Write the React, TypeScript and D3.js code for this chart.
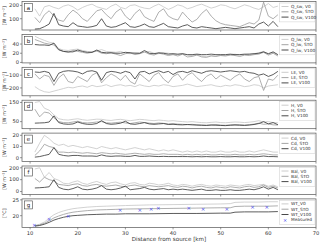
import React from "react";
import * as d3 from "d3";

// distance along river [km]
const km = [11, 12, 13, 14, 15, 16, 17, 18, 19, 20, 21, 22, 23, 24, 25, 26, 27, 28, 29, 30, 31, 32, 33, 34, 35, 36, 37, 38, 39, 40, 41, 42, 43, 44, 45, 46, 47, 48, 49, 50, 51, 52, 53, 54, 55, 56, 57, 58, 59, 60, 61, 62];

const qswV0 = [175, 120, 190, 200, 185, 175, 195, 205, 190, 165, 185, 200, 210, 190, 180, 170, 195, 210, 185, 175, 200, 205, 190, 180, 175, 195, 210, 190, 170, 185, 205, 195, 175, 185, 200, 210, 195, 180, 190, 205, 200, 185, 175, 190, 205, 195, 180, 170, 190, 215, 185, 195];
const qswSTO = [110, 70, 130, 160, 120, 90, 80, 130, 165, 140, 100, 80, 120, 160, 170, 130, 100, 150, 175, 120, 90, 140, 170, 115, 95, 80, 150, 175, 120, 100, 90, 150, 110, 75, 95, 140, 170, 120, 85, 65, 55, 50, 45, 40, 55, 70, 60, 90, 225, 120, 100, 130];
const qswV100 = [22, 25, 40, 60, 140, 55, 45, 40, 70, 45, 40, 35, 40, 50, 100, 45, 35, 40, 55, 70, 40, 35, 45, 60, 40, 35, 50, 65, 40, 35, 30, 45, 55, 35, 30, 40, 35, 30, 25, 30, 35, 30, 25, 30, 35, 40, 30, 60, 75, 45, 80, 40];

const qlwV0 = [57, 52, 48, 44, 42, 30, 27, 26, 28, 29, 26, 24, 23, 25, 28, 24, 23, 22, 24, 20, 19, 21, 20, 22, 24, 20, 19, 21, 20, 18, 17, 19, 16, 15, 17, 14, 13, 15, 14, 16, 15, 17, 18, 16, 17, 18, 19, 21, 24, 18, 22, 16];
const qlwSTO = [50, 46, 42, 40, 38, 27, 24, 22, 26, 24, 22, 20, 22, 25, 20, 19, 21, 18, 15, 19, 21, 17, 19, 23, 18, 16, 20, 18, 15, 17, 14, 18, 12, 13, 16, 12, 11, 14, 13, 15, 14, 16, 15, 13, 16, 15, 17, 18, 22, 16, 20, 14];
const qlwV100 = [39, 38, 38, 37, 42, 28, 24, 23, 23, 27, 24, 22, 22, 27, 22, 21, 21, 20, 20, 22, 21, 20, 20, 26, 20, 19, 21, 20, 18, 19, 18, 19, 17, 17, 18, 17, 17, 18, 17, 17, 17, 18, 17, 17, 18, 18, 19, 20, 23, 19, 23, 17];

const leV0 = [-190, -215, -230, -235, -225, -215, -205, -195, -200, -190, -185, -195, -180, -190, -185, -175, -190, -180, -175, -185, -180, -190, -175, -185, -190, -180, -185, -175, -180, -190, -185, -180, -170, -180, -190, -185, -180, -175, -185, -190, -180, -185, -175, -180, -190, -185, -175, -180, -200, -185, -180, -175];
const leSTO = [-90, -130, -100, -110, -180, -120, -90, -150, -160, -110, -130, -150, -100, -80, -160, -120, -90, -110, -140, -100, -150, -170, -90, -120, -150, -100, -80, -130, -160, -110, -90, -140, -100, -80, -120, -150, -110, -90, -130, -100, -120, -140, -110, -90, -130, -150, -120, -110, -220, -130, -140, -100];
const leV100 = [-75, -78, -70, -80, -150, -85, -70, -65, -68, -75, -90, -70, -65, -75, -140, -80, -70, -75, -85, -70, -80, -130, -75, -70, -90, -75, -65, -80, -70, -95, -75, -70, -80, -65, -75, -85, -70, -65, -70, -75, -70, -65, -70, -75, -70, -80, -85, -100, -90, -110, -95, -70];

const hV0 = [150, 155, 120, 110, 85, 65, 60, 58, 62, 65, 60, 57, 60, 63, 62, 58, 56, 60, 62, 58, 55, 58, 62, 60, 57, 55, 58, 56, 53, 55, 52, 50, 48, 50, 47, 45, 44, 46, 48, 45, 44, 46, 48, 47, 45, 47, 50, 55, 48, 50, 45, 44];
const hSTO = [115, 75, 100, 95, 70, 50, 45, 44, 48, 52, 45, 43, 45, 48, 50, 44, 42, 45, 47, 43, 40, 44, 48, 45, 42, 40, 43, 41, 38, 40, 37, 36, 34, 36, 33, 32, 31, 33, 35, 32, 31, 33, 35, 34, 32, 34, 37, 42, 36, 38, 33, 32];
const hV100 = [42, 43, 44, 48, 80, 45, 38, 36, 38, 48, 40, 36, 36, 40, 55, 40, 36, 38, 42, 52, 38, 36, 40, 45, 38, 36, 38, 40, 35, 36, 34, 33, 35, 33, 32, 31, 30, 32, 31, 30, 29, 31, 32, 31, 30, 32, 35, 40, 50, 38, 45, 34];

const cdV0 = [5, 13, 20, 17, 13, 11, 12, 10, 11, 10, 9, 10, 9, 8, 10, 9, 8, 9, 8, 7, 8, 9, 8, 7, 8, 7, 6, 7, 6, 7, 6, 5, 6, 5, 6, 5, 6, 5, 5, 6, 5, 5, 6, 5, 5, 6, 5, 6, 7, 6, 5, 5];
const cdSTO = [2, 6, 12, 10, 9, 5, 5, 4.5, 5, 4.5, 4, 4.5, 4, 3.5, 4.5, 4, 3.5, 4, 3.5, 3, 3.5, 4, 3.5, 3, 3.5, 3, 3, 3.5, 3, 3, 3, 2.5, 3, 2.5, 3, 2.5, 3, 2.5, 2.5, 3, 2.5, 2.5, 3, 2.5, 2.5, 3, 2.5, 3, 3.5, 3, 2.5, 2.5];
const cdV100 = [0.5, 1, 2, 3, 9, 3, 2, 1.5, 2, 2, 1.5, 1.5, 1.5, 1.2, 2.5, 1.5, 1.2, 1.5, 1.5, 1.2, 1.2, 2, 1.2, 1.2, 1.5, 1.2, 1, 1.2, 1, 1, 1, 1, 1, 0.8, 1, 0.8, 1, 0.8, 0.8, 1, 0.8, 0.8, 1, 0.8, 0.8, 1, 0.8, 1, 1.5, 1, 1, 0.8];

const balV0 = [190, 200, 120, 160, 110, 95, 70, 65, 80, 90, 70, 60, 75, 85, 70, 60, 75, 80, 65, 55, 70, 75, 60, 55, 70, 65, 55, 60, 70, 55, 50, 60, 55, 45, 55, 60, 50, 45, 55, 50, 45, 55, 50, 45, 55, 60, 50, 55, 60, 45, 55, 40];
const balSTO = [110, 80, 120, 100, 90, 60, 55, 50, 60, 65, 50, 45, 55, 60, 50, 45, 50, 55, 45, 40, 50, 55, 45, 40, 50, 45, 40, 45, 50, 40, 35, 45, 40, 30, 40, 45, 35, 30, 40, 35, 30, 40, 35, 30, 40, 45, 35, 40, 55, 35, 45, 30];
const balV100 = [30, 32, 35, 40, 100, 35, 20, 15, 25, 40, 20, 15, 20, 30, 50, 20, 15, 20, 30, 45, 15, 20, 25, 35, 20, 15, 20, 25, 15, 20, 15, 20, 15, 10, 15, 20, 10, 10, 15, 10, 10, 15, 10, 10, 15, 20, 15, 25, 40, 20, 35, 15];

// water temperature
const wtKm = [11, 12, 13, 14, 15, 16, 17, 18, 19, 20, 22, 24, 26, 28, 30, 35, 40, 45, 50, 52, 53, 55, 58, 60, 62];
const wtV0 = [16.9, 17.3, 18.0, 19.2, 20.3, 21.0, 21.5, 21.9, 22.2, 22.4, 22.7, 22.9, 23.0, 23.1, 23.2, 23.4, 23.5, 23.6, 23.7, 23.8, 24.2, 24.3, 24.3, 24.4, 24.4];
const wtSTO = [16.8, 17.1, 17.6, 18.4, 19.3, 19.9, 20.4, 20.8, 21.1, 21.3, 21.6, 21.8, 21.9, 22.0, 22.1, 22.2, 22.3, 22.4, 22.5, 22.5, 22.9, 23.0, 23.0, 23.0, 23.1];
const wtV100 = [16.7, 16.9, 17.3, 17.9, 18.6, 19.1, 19.5, 19.8, 20.0, 20.1, 20.3, 20.4, 20.5, 20.5, 20.6, 20.6, 20.7, 20.7, 20.8, 20.8, 21.1, 21.2, 21.2, 21.2, 21.3];
const measKm = [10.9, 14.0, 18.0, 28.9, 33.0, 35.4, 36.9, 43.3, 46.3, 51.3, 56.7, 59.7];
const measWT = [16.9, 18.8, 19.9, 21.8, 21.8, 22.2, 22.4, 22.3, 22.0, 22.0, 22.6, 22.7];

const xTicks = [10, 20, 30, 40, 50, 60, 70];
const runNames = ["V0", "STO", "V100"];
const runColors = ["#c6c6c6", "#9a9a9a", "#333333"];

const panels = [
  { id: "a", name: "Q_sw", sep: ", ", series: [qswV0, qswSTO, qswV100], dom: [15, 230], ticks: [100, 200], unit: "[W m⁻²]" },
  { id: "b", name: "Q_lw", sep: ", ", series: [qlwV0, qlwSTO, qlwV100], dom: [-1, 61], ticks: [0, 20, 40], unit: "[W m⁻²]" },
  { id: "c", name: "LE", sep: ", ", series: [leV0, leSTO, leV100], dom: [-262, -38], ticks: [-200, -100], unit: "[W m⁻²]" },
  { id: "d", name: "H", sep: ", ", series: [hV0, hSTO, hV100], dom: [13, 162], ticks: [50, 150], unit: "[W m⁻²]" },
  { id: "e", name: "Cd", sep: ", ", series: [cdV0, cdSTO, cdV100], dom: [-3.5, 22], ticks: [0, 10, 20], unit: "[W m⁻²]" },
  { id: "f", name: "Bal", sep: ", ", series: [balV0, balSTO, balV100], dom: [-25, 215], ticks: [0, 100, 200], unit: "[W m⁻²]" },
];

const FONT = "DejaVu Sans, sans-serif";
const L = 22;
const R = 316;
const TOP0 = 1.5;
const STEP = 32.9;
const PH = 28.5;

const x = d3.scaleLinear().domain([8.3, 70]).range([L, R]);
const fmt = (v: number) => (v < 0 ? "\u2212" + Math.abs(v) : String(v));

function Frame({ top, id, yTicks, y, unit, showXLabels }: any) {
  return (
    <g>
      <rect x={L} y={top} width={R - L} height={PH} fill="none" stroke="#555" strokeWidth={0.7} />
      {yTicks.map((t: number) => (
        <g key={t}>
          <line x1={L - 2} x2={L} y1={y(t)} y2={y(t)} stroke="#555" strokeWidth={0.6} />
          <text x={L - 3} y={y(t)} dy="0.35em" textAnchor="end" fontSize={5.2} fill="#333" fontFamily={FONT}>
            {fmt(t)}
          </text>
        </g>
      ))}
      {xTicks.map(t => (
        <g key={t}>
          <line x1={x(t)} x2={x(t)} y1={top + PH} y2={top + PH + 2} stroke="#555" strokeWidth={0.6} />
          {showXLabels && (
            <text x={x(t)} y={top + PH + 8} textAnchor="middle" fontSize={5.2} fill="#333" fontFamily={FONT}>
              {t}
            </text>
          )}
        </g>
      ))}
      <rect x={L + 2.5} y={top + 2} width={8} height={8} fill="#fff" stroke="#444" strokeWidth={0.6} />
      <text x={L + 6.5} y={top + 8.2} textAnchor="middle" fontSize={5.5} fill="#222" fontFamily={FONT}>
        {id}
      </text>
      <text
        transform={`translate(6,${top + PH / 2}) rotate(-90)`}
        textAnchor="middle"
        fontSize={4.8}
        fill="#333"
        fontFamily={FONT}
      >
        {unit}
      </text>
    </g>
  );
}

function Legend({ top, items }: any) {
  const x0 = 279.5;
  const h = items.length * 5.3 + 3;
  return (
    <g>
      <rect x={x0} y={top + 1.5} width={R - x0 - 1} height={h} fill="#fff" stroke="#ccc" strokeWidth={0.5} />
      {items.map((it: any, i: number) => {
        const yy = top + 5 + i * 5.3;
        return (
          <g key={i}>
            {it.marker ? (
              <text x={285} y={yy} dy="0.35em" textAnchor="middle" fontSize={5} fill="#3a3af0" fontFamily={FONT}>
                ×
              </text>
            ) : (
              <line x1={281.5} x2={288.5} y1={yy} y2={yy} stroke={it.color} strokeWidth={0.9} />
            )}
            <text x={291} y={yy} dy="0.35em" fontSize={4.3} fill="#333" fontFamily={FONT}>
              {it.label}
            </text>
          </g>
        );
      })}
    </g>
  );
}

export default function App() {
  const gTop = TOP0 + 6 * STEP;
  const yG = d3.scaleLinear().domain([16.3, 25.3]).range([gTop + PH, gTop]);
  const wtLine = d3
    .line<number>()
    .x((_, i) => x(wtKm[i]))
    .y(d => yG(d));
  return (
    <svg width={320} height={242} style={{ position: "absolute", left: 0, top: 0, background: "#fff" }}>
      {panels.map((p, pi) => {
        const top = TOP0 + pi * STEP;
        const y = d3.scaleLinear().domain(p.dom).range([top + PH, top]);
        const line = d3
          .line<number>()
          .x((_, i) => x(km[i]))
          .y(d => y(d));
        return (
          <g key={p.id}>
            <Frame top={top} id={p.id} yTicks={p.ticks} y={y} unit={p.unit} showXLabels={false} />
            {p.series.map((s, si) => (
              <path key={si} d={line(s) || ""} fill="none" stroke={runColors[si]} strokeWidth={0.8} />
            ))}
            <Legend
              top={top}
              items={runNames.map((n, i) => ({ label: `${p.name}${p.sep}${n}`, color: runColors[i] }))}
            />
          </g>
        );
      })}
      <g>
        <Frame top={gTop} id="g" yTicks={[20, 25]} y={yG} unit="[°C]" showXLabels={true} />
        {[wtV0, wtSTO, wtV100].map((s, si) => (
          <path key={si} d={wtLine(s) || ""} fill="none" stroke={runColors[si]} strokeWidth={0.8} />
        ))}
        {measKm.map((k, i) => (
          <text key={i} x={x(k)} y={yG(measWT[i])} dy="0.35em" textAnchor="middle" fontSize={5.5} fill="#3a3af0" fontFamily={FONT}>
            ×
          </text>
        ))}
        <Legend
          top={gTop}
          items={[
            ...runNames.map((n, i) => ({ label: `WT_${n}`, color: runColors[i] })),
            { label: "Measured", marker: true },
          ]}
        />
      </g>
      <text x={(L + R) / 2} y={241} textAnchor="middle" fontSize={5.6} fill="#333" fontFamily={FONT}>
        Distance from source [km]
      </text>
    </svg>
  );
}
